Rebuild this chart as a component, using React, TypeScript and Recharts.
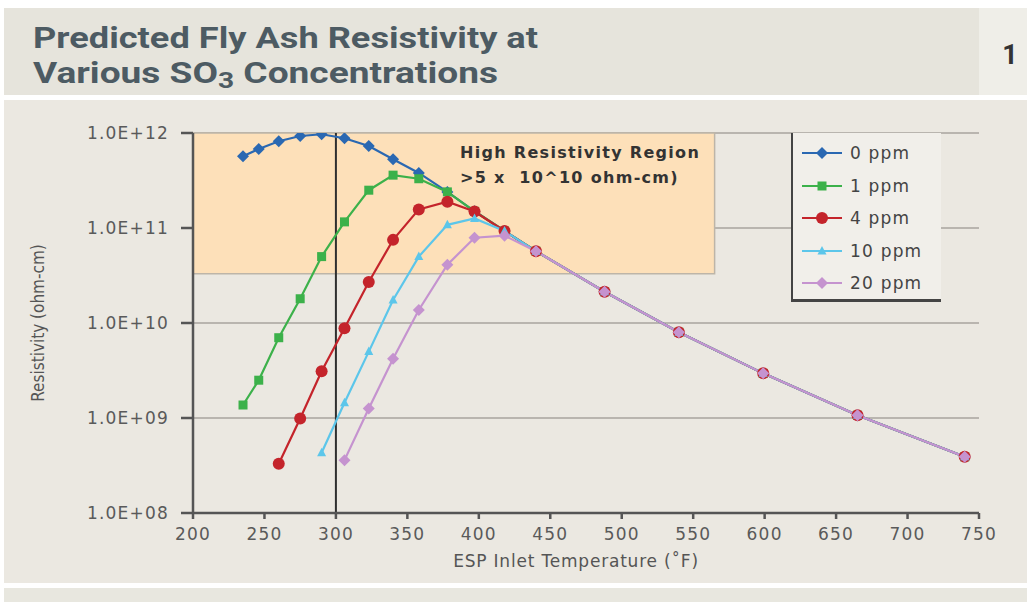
import React from "react";
import {
  LineChart,
  Line,
  XAxis,
  YAxis,
  CartesianGrid,
  ReferenceArea,
  ReferenceLine,
  Legend,
} from "recharts";

// ESP inlet temperatures (°F)
const TEMPS = [235, 246, 260, 275, 290, 306, 323, 340, 358, 378, 397, 418, 440, 488, 540, 599, 665, 740];
// shared high-temperature tail (440 .. 740 °F)
const TAIL = [5.7e10, 2.13e10, 8.0e9, 2.95e9, 1.07e9, 3.9e8];
const PPM0 = [5.7e11, 6.8e11, 8.2e11, 9.3e11, 9.7e11, 8.8e11, 7.3e11, 5.3e11, 3.8e11, 2.4e11, 1.5e11, 9.3e10, ...TAIL];
const PPM1 = [1.37e9, 2.5e9, 7.0e9, 1.8e10, 5.0e10, 1.16e11, 2.5e11, 3.6e11, 3.3e11, 2.4e11, 1.5e11, 9.3e10, ...TAIL];
const PPM4 = [null, null, 3.3e8, 9.9e8, 3.1e9, 8.8e9, 2.7e10, 7.5e10, 1.57e11, 1.89e11, 1.49e11, 9.3e10, ...TAIL];
const PPM10 = [null, null, null, null, 4.3e8, 1.45e9, 5.0e9, 1.75e10, 5.0e10, 1.08e11, 1.26e11, 9.3e10, ...TAIL];
const PPM20 = [null, null, null, null, null, 3.6e8, 1.26e9, 4.2e9, 1.37e10, 4.1e10, 7.9e10, 8.3e10, ...TAIL];

const X_TICKS = [200, 250, 300, 350, 400, 450, 500, 550, 600, 650, 700, 750];
const Y_TICKS = [1e8, 1e9, 1e10, 1e11, 1e12];
const REGION = { x1: 200, x2: 565, y1: 3.3e10, y2: 1e12 };
const REGION_TEXT = ["High Resistivity Region", ">5 x  10^10 ohm-cm)"];

const SERIES = [
  { key: "p0", name: "0 ppm", values: PPM0, color: "#2a68b2", shape: "diamond" },
  { key: "p1", name: "1 ppm", values: PPM1, color: "#3cb14a", shape: "square" },
  { key: "p4", name: "4 ppm", values: PPM4, color: "#c4242b", shape: "circle" },
  { key: "p10", name: "10 ppm", values: PPM10, color: "#5cc6ea", shape: "triangle" },
  { key: "p20", name: "20 ppm", values: PPM20, color: "#c593cf", shape: "diamond" },
];

const data = TEMPS.map((t, i) => {
  const row: any = { t };
  SERIES.forEach((s) => {
    row[s.key] = s.values[i];
  });
  return row;
});

const FONT = "'DejaVu Sans', sans-serif";

function Marker({ shape, cx, cy, color }: any) {
  if (shape === "diamond")
    return <polygon points={`${cx},${cy - 6} ${cx + 6},${cy} ${cx},${cy + 6} ${cx - 6},${cy}`} fill={color} />;
  if (shape === "square") return <rect x={cx - 4.5} y={cy - 4.5} width={9} height={9} fill={color} />;
  if (shape === "circle") return <circle cx={cx} cy={cy} r={6} fill={color} />;
  return <polygon points={`${cx},${cy - 5} ${cx + 4.5},${cy + 3.5} ${cx - 4.5},${cy + 3.5}`} fill={color} />;
}

const makeDot = (s: any) => (props: any) => {
  const { cx, cy, index, value } = props;
  if (cx == null || cy == null || value == null || (Array.isArray(value) && value[1] == null))
    return <g key={`d-${s.key}-${index}`} />;
  return (
    <g key={`d-${s.key}-${index}`}>
      <Marker shape={s.shape} cx={cx} cy={cy} color={s.color} />
    </g>
  );
};

const renderLegend = () => (
  <div
    style={{
      width: 150,
      height: 169,
      background: "#f1efea",
      borderLeft: "2.5px solid #444",
      borderBottom: "3px solid #444",
      boxSizing: "border-box",
      paddingTop: 4,
    }}
  >
    {SERIES.map((s) => (
      <div key={s.key} style={{ display: "flex", alignItems: "center", height: 32.5 }}>
        <svg width={58} height={20} style={{ marginLeft: 7 }}>
          <line x1={2} y1={10} x2={42} y2={10} stroke={s.color} strokeWidth={2} />
          <Marker shape={s.shape} cx={22} cy={10} color={s.color} />
        </svg>
        <span style={{ fontFamily: FONT, fontSize: 17, letterSpacing: 1.2, color: "#444", marginLeft: -8 }}>
          {s.name}
        </span>
      </div>
    ))}
  </div>
);

const regionLabel = (props: any) => {
  const vb = props.viewBox || {};
  const x = (vb.x || 0) + 267;
  const y = (vb.y || 0) + 25;
  const st = { whiteSpace: "pre" } as any;
  return (
    <g>
      <text x={x} y={y} fontFamily={FONT} fontWeight="bold" fontSize={16} fill="#333" letterSpacing={1.3} style={st}>
        {REGION_TEXT[0]}
      </text>
      <text x={x} y={y + 25} fontFamily={FONT} fontWeight="bold" fontSize={16} fill="#333" letterSpacing={1.3} style={st}>
        {REGION_TEXT[1]}
      </text>
    </g>
  );
};

const yFmt = (v: number) => "1.0E+" + String(Math.round(Math.log10(v))).padStart(2, "0");

export default function App() {
  return (
    <div style={{ position: "absolute", left: 0, top: 0, width: 1027, height: 602, background: "#ffffff", overflow: "hidden" }}>
      {/* title band */}
      <div style={{ position: "absolute", left: 4, top: 8, width: 975, height: 87, background: "#e6e4dc" }} />
      <div style={{ position: "absolute", left: 979, top: 8, width: 48, height: 87, background: "#efeee8" }} />
      {/* chart panel */}
      <div style={{ position: "absolute", left: 4, top: 100, width: 1023, height: 483, background: "#ebe8e1" }} />
      <div style={{ position: "absolute", left: 4, top: 588, width: 1023, height: 14, background: "#e8e7df" }} />
      <svg style={{ position: "absolute", left: 0, top: 0 }} width={1027} height={100}>
        <text x={33} y={48} fontFamily="Roboto, sans-serif" fontWeight="bold" fontSize={29} fill="#4d5b63" textLength={505} lengthAdjust="spacingAndGlyphs">
          Predicted Fly Ash Resistivity at
        </text>
        <text x={33} y={83} fontFamily="Roboto, sans-serif" fontWeight="bold" fontSize={29} fill="#4d5b63" textLength={465} lengthAdjust="spacingAndGlyphs">
          Various SO<tspan fontSize={22} dy={5}>3</tspan><tspan dy={-5}> Concentrations</tspan>
        </text>
        <text x={1010} y={64} textAnchor="middle" fontFamily="Roboto, sans-serif" fontWeight="bold" fontSize={27} fill="#333">
          1
        </text>
      </svg>
      <div style={{ position: "absolute", left: 0, top: 0 }}>
        <LineChart width={1027} height={602} data={data} margin={{ top: 133, right: 48, bottom: 19, left: 0 }}>
          <ReferenceArea
            x1={REGION.x1}
            x2={REGION.x2}
            y1={REGION.y1}
            y2={REGION.y2}
            fill="#fde0b9"
            fillOpacity={1}
            stroke="#bdb5a8"
            strokeWidth={1.5}
            label={regionLabel}
          />
          <CartesianGrid vertical={false} stroke="#a9a59e" strokeWidth={1.6} />
          <XAxis
            type="number"
            dataKey="t"
            domain={[200, 750]}
            ticks={X_TICKS}
            allowDataOverflow
            height={70}
            tickSize={6}
            tickMargin={9}
            stroke="#555"
            strokeWidth={2.5}
            tick={{ fontFamily: FONT, fontSize: 17, fill: "#5a5a5a", letterSpacing: 1.2 }}
            label={{
              value: "ESP Inlet Temperature (˚F)",
              position: "insideBottom",
              offset: 16,
              dx: -10,
              style: { fontFamily: FONT, fontSize: 17, fill: "#555", letterSpacing: 0.8 },
            }}
          />
          <YAxis
            type="number"
            scale="log"
            domain={[1e8, 1e12]}
            ticks={Y_TICKS}
            allowDataOverflow
            width={193}
            tickSize={12}
            tickMargin={12}
            tickFormatter={yFmt}
            stroke="#555"
            strokeWidth={2.5}
            tick={{ fontFamily: FONT, fontSize: 17, fill: "#5a5a5a", letterSpacing: 1.2 }}
            label={{
              value: "Resistivity (ohm-cm)",
              angle: -90,
              position: "insideLeft",
              offset: 38,
              style: { fontFamily: "'DejaVu Sans Condensed', 'DejaVu Sans', sans-serif", fontSize: 17, fill: "#555", textAnchor: "middle" },
            }}
          />
          <ReferenceLine x={300} stroke="#2f2f2f" strokeWidth={2} />
          {SERIES.map((s) => (
            <Line
              key={s.key}
              type="linear"
              dataKey={s.key}
              name={s.name}
              stroke={s.color}
              strokeWidth={2.2}
              dot={makeDot(s)}
              activeDot={false}
              isAnimationActive={false}
            />
          ))}
          <Legend
            layout="vertical"
            align="center"
            verticalAlign="middle"
            content={renderLegend}
            wrapperStyle={{ position: "absolute", left: 791, top: 133, width: 150, height: 169 }}
          />
        </LineChart>
      </div>
    </div>
  );
}
